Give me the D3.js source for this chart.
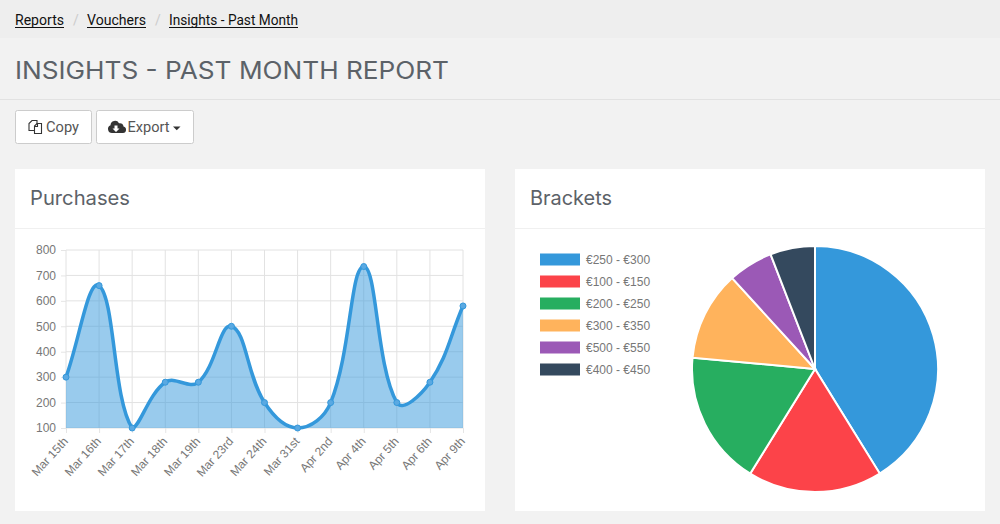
<!DOCTYPE html>
<html>
<head>
<meta charset="utf-8">
<script src="https://cdn.jsdelivr.net/npm/d3@7"></script>
<style>
  html, body { margin: 0; padding: 0; background: #f2f2f2; overflow: hidden; }
  svg { display: block; }
</style>
</head>
<body>
<script>
const crumbs = ['Reports', 'Vouchers', 'Insights - Past Month'];
const dates = ['Mar 15th', 'Mar 16th', 'Mar 17th', 'Mar 18th', 'Mar 19th', 'Mar 23rd', 'Mar 24th',
               'Mar 31st', 'Apr 2nd', 'Apr 4th', 'Apr 5th', 'Apr 6th', 'Apr 9th'];
const purchases = [300, 660, 100, 280, 280, 500, 200, 100, 200, 735, 200, 280, 580];
const yTicks = [100, 200, 300, 400, 500, 600, 700, 800];
const brackets = ['€250 - €300', '€100 - €150', '€200 - €250', '€300 - €350', '€500 - €550', '€400 - €450'];
const bracketCounts = [7, 3, 3, 2, 1, 1];
const bracketColors = ['#3498db', '#fc4349', '#27ae60', '#ffb35c', '#9b59b6', '#34495e'];

const WIDTH = 1000;
const HEIGHT = 524;
const HEAD_FONT = 'Inter, "Open Sans", sans-serif';
const CRUMB_FONT = 'Roboto, sans-serif';
const CHART_FONT = '"Liberation Sans", Arial, sans-serif';

let svg = d3.select('body').append('svg')
  .attr('width', WIDTH)
  .attr('height', HEIGHT);

svg.append('rect').attr('width', WIDTH).attr('height', HEIGHT).attr('fill', '#f2f2f2');

// breadcrumb
svg.append('rect').attr('width', WIDTH).attr('height', 38).attr('fill', '#eeeeee');
let crumbX = [15, 87, 169];
let crumbW = [49, 59, 129];
crumbs.forEach((c, i) => {
  svg.append('text').text(c)
    .attr('x', crumbX[i]).attr('y', 25)
    .attr('font-family', CRUMB_FONT).attr('font-size', 14).attr('fill', '#111')
    .attr('textLength', crumbW[i]).attr('lengthAdjust', 'spacingAndGlyphs');
  svg.append('line')
    .attr('x1', crumbX[i]).attr('x2', crumbX[i] + crumbW[i])
    .attr('y1', 27.5).attr('y2', 27.5)
    .attr('stroke', '#111').attr('stroke-width', 1);
  if (i < 2) {
    svg.append('text').text('/')
      .attr('x', crumbX[i] + crumbW[i] + 9).attr('y', 25)
      .attr('font-family', CRUMB_FONT).attr('font-size', 14).attr('fill', '#ccc');
  }
});

// page title
svg.append('text').text('INSIGHTS - PAST MONTH REPORT')
  .attr('x', 15).attr('y', 79)
  .attr('font-family', HEAD_FONT).attr('font-size', 24).attr('fill', '#5c6268')
  .attr('textLength', 434).attr('lengthAdjust', 'spacingAndGlyphs');
svg.append('line').attr('x1', 0).attr('x2', WIDTH).attr('y1', 99.5).attr('y2', 99.5).attr('stroke', '#e2e2e2');

// buttons
function button(x, w) {
  svg.append('rect')
    .attr('x', x + 0.5).attr('y', 110.5).attr('width', w - 1).attr('height', 33)
    .attr('rx', 2).attr('fill', '#fff').attr('stroke', '#cccccc');
}
button(15, 77);
button(96, 98);

// copy icon, two overlapping sheets
svg.append('path')
  .attr('d', 'M34.5 130.5h-5.500v-7l3-3h5v4')
  .attr('fill', 'none').attr('stroke', '#333').attr('stroke-width', 1.1);
svg.append('path')
  .attr('d', 'M34.5 133.500v-7.500l2.500-2.500h4.500v10zM34.500 126.500h3v-3')
  .attr('fill', '#fff').attr('stroke', '#333').attr('stroke-width', 1.1);
svg.append('text').text('Copy')
  .attr('x', 46).attr('y', 132)
  .attr('font-family', CRUMB_FONT).attr('font-size', 14).attr('fill', '#555')
  .attr('textLength', 33).attr('lengthAdjust', 'spacingAndGlyphs');

// cloud download icon
svg.append('path')
  .attr('d', 'M112 133a4 4 0 0 1-1.500-7.700a4.500 4.500 0 0 1 8.500-2a3.500 3.500 0 0 1 4.500 3.200a3.300 3.300 0 0 1-0.500 6.500z')
  .attr('fill', '#333');
svg.append('path').attr('d', 'M114.500 125.500h3v3h2l-3.500 3.500l-3.500-3.500h2z').attr('fill', '#fff');
svg.append('text').text('Export')
  .attr('x', 127.500).attr('y', 132)
  .attr('font-family', CRUMB_FONT).attr('font-size', 14).attr('fill', '#555')
  .attr('textLength', 42).attr('lengthAdjust', 'spacingAndGlyphs');
svg.append('path').attr('d', 'M173 126.500h7.500l-3.750 3.750z').attr('fill', '#333');

// cards
function card(x, title, titleW) {
  svg.append('rect').attr('x', x).attr('y', 169).attr('width', 470).attr('height', 342).attr('fill', '#fff');
  svg.append('line').attr('x1', x).attr('x2', x + 470).attr('y1', 228.500).attr('y2', 228.500).attr('stroke', '#f0f0f0');
  svg.append('text').text(title)
    .attr('x', x + 15).attr('y', 205)
    .attr('font-family', HEAD_FONT).attr('font-size', 20).attr('fill', '#5c6268')
    .attr('textLength', titleW).attr('lengthAdjust', 'spacingAndGlyphs');
}
card(15, 'Purchases', 100);
card(515, 'Brackets', 82);

// line chart
const PLOT = { left: 66, right: 463, top: 250, bottom: 428 };

let xScale = d3.scalePoint()
  .domain(dates)
  .range([PLOT.left, PLOT.right]);

let yScale = d3.scaleLinear()
  .domain([100, 800])
  .range([PLOT.bottom, PLOT.top]);

let xAxis = svg.append('g')
  .attr('transform', `translate(0,${PLOT.bottom})`)
  .call(d3.axisBottom(xScale).tickSize(5).tickSizeOuter(0));
xAxis.select('.domain').remove();
xAxis.selectAll('.tick line').attr('stroke', '#e5e5e5');
xAxis.selectAll('.tick text')
  .attr('font-family', CHART_FONT).attr('font-size', 12).attr('fill', '#777')
  .attr('text-anchor', 'end')
  .attr('x', 0).attr('y', 0).attr('dy', '0.35em')
  .attr('transform', 'translate(-1,11) rotate(-48)');

let yAxis = svg.append('g')
  .attr('transform', `translate(${PLOT.left},0)`)
  .call(d3.axisLeft(yScale).tickValues(yTicks).tickSize(5).tickPadding(5).tickFormat(d3.format('d')));
yAxis.select('.domain').remove();
yAxis.selectAll('.tick line').attr('stroke', '#e5e5e5');
yAxis.selectAll('.tick text')
  .attr('font-family', CHART_FONT).attr('font-size', 12).attr('fill', '#777');

svg.append('g').selectAll('line')
  .data(yTicks)
  .enter()
  .append('line')
  .attr('x1', PLOT.left).attr('x2', PLOT.right)
  .attr('y1', d => yScale(d)).attr('y2', d => yScale(d))
  .attr('stroke', '#e2e2e2');

svg.append('g').selectAll('line')
  .data(dates)
  .enter()
  .append('line')
  .attr('x1', d => xScale(d)).attr('x2', d => xScale(d))
  .attr('y1', PLOT.top).attr('y2', PLOT.bottom)
  .attr('stroke', '#e2e2e2');

// same bezier as the original chart's tension 0.4 spline, clamped to the plot
function splinePath(ctx, pts) {
  const T = 0.4;
  let ctrl = pts.map((p, i) => {
    let prev = pts[Math.max(i - 1, 0)];
    let next = pts[Math.min(i + 1, pts.length - 1)];
    let d01 = Math.hypot(p[0] - prev[0], p[1] - prev[1]);
    let d12 = Math.hypot(next[0] - p[0], next[1] - p[1]);
    let fa = T * d01 / (d01 + d12);
    let fb = T * d12 / (d01 + d12);
    let clampY = v => Math.min(PLOT.bottom, Math.max(PLOT.top, v));
    return {
      inX: p[0] - fa * (next[0] - prev[0]),
      inY: clampY(p[1] - fa * (next[1] - prev[1])),
      outX: p[0] + fb * (next[0] - prev[0]),
      outY: clampY(p[1] + fb * (next[1] - prev[1]))
    };
  });
  pts.forEach((p, i) => {
    if (i === 0) ctx.lineTo(p[0], p[1]);
    else ctx.bezierCurveTo(ctrl[i - 1].outX, ctrl[i - 1].outY, ctrl[i].inX, ctrl[i].inY, p[0], p[1]);
  });
}

let points = dates.map((d, i) => [xScale(d), yScale(purchases[i])]);

let linePath = d3.path();
linePath.moveTo(points[0][0], points[0][1]);
splinePath(linePath, points);

let areaPath = d3.path();
areaPath.moveTo(points[0][0], yScale(100));
splinePath(areaPath, points);
areaPath.lineTo(points[points.length - 1][0], yScale(100));
areaPath.closePath();

svg.append('path').attr('d', areaPath.toString())
  .attr('fill', '#3498db').attr('fill-opacity', 0.5);
svg.append('path').attr('d', linePath.toString())
  .attr('fill', 'none').attr('stroke', '#3498db').attr('stroke-width', 3.5);

svg.append('g').selectAll('circle')
  .data(purchases)
  .enter()
  .append('circle')
  .attr('cx', (d, i) => xScale(dates[i]))
  .attr('cy', d => yScale(d))
  .attr('r', 3)
  .attr('fill', '#5aa9e2')
  .attr('stroke', '#3498db')
  .attr('stroke-width', 1);

// legend
let legendY = d3.scalePoint().domain(brackets).range([259.500, 369.500]);

svg.append('g').selectAll('rect')
  .data(brackets)
  .enter()
  .append('rect')
  .attr('x', 540).attr('y', d => legendY(d) - 6)
  .attr('width', 40).attr('height', 12)
  .attr('fill', (d, i) => bracketColors[i]);

svg.append('g').selectAll('text')
  .data(brackets)
  .enter()
  .append('text')
  .text(d => d)
  .attr('x', 586).attr('y', d => legendY(d) + 4)
  .attr('font-family', CHART_FONT).attr('font-size', 12).attr('fill', '#777');

// pie
let pie = d3.pie().sort(null);
let arc = d3.arc().innerRadius(0).outerRadius(123);

svg.append('g')
  .attr('transform', 'translate(815,369)')
  .selectAll('path')
  .data(pie(bracketCounts))
  .enter()
  .append('path')
  .attr('d', arc)
  .attr('fill', (d, i) => bracketColors[i])
  .attr('stroke', '#fff')
  .attr('stroke-width', 2);
</script>
</body>
</html>
